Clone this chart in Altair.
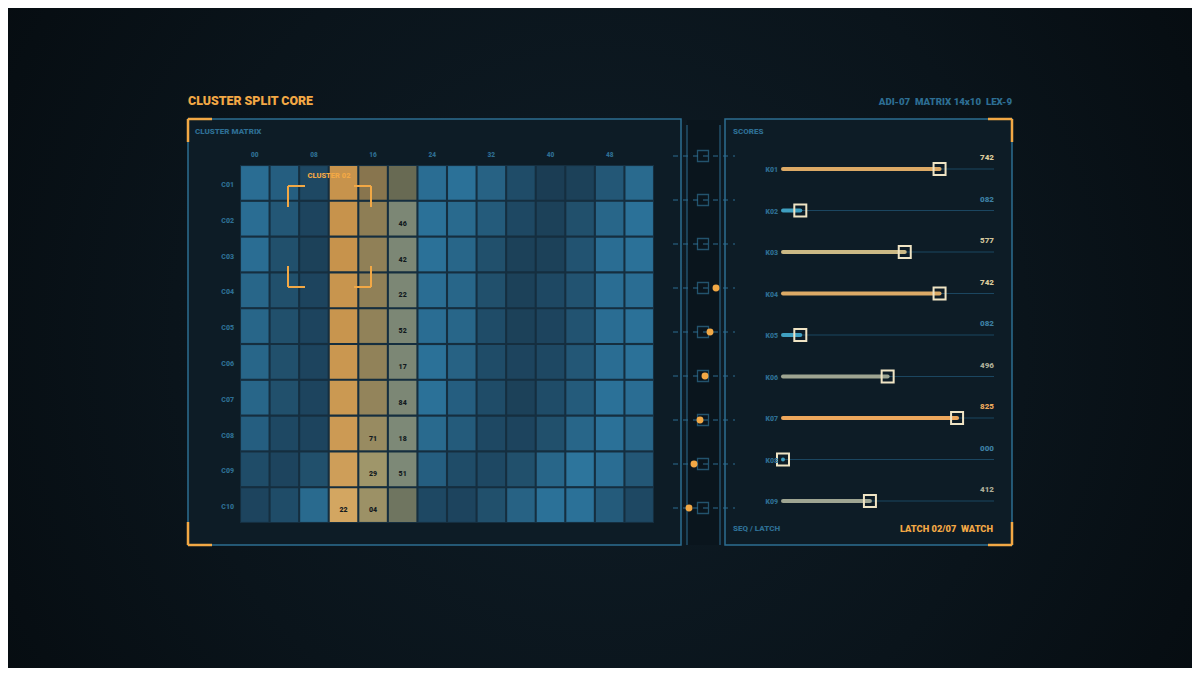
import altair as alt
import pandas as pd

# ---------------- data ----------------
row_labels = ["C01", "C02", "C03", "C04", "C05", "C06", "C07", "C08", "C09", "C10"]
col_ids = list(range(14))
col_tick_ids = [0, 2, 4, 6, 8, 10, 12]
col_tick_labels = ["00", "08", "16", "24", "32", "40", "48"]

# intensity of the blue cells (None = highlighted cluster columns)
blue_levels = [
    [0.80, 0.60, 0.30, None, None, None, 0.80, 0.85, 0.65, 0.35, 0.15, 0.20, 0.50, 0.75],
    [0.80, 0.50, 0.25, None, None, None, 0.85, 0.75, 0.55, 0.30, 0.20, 0.40, 0.70, 0.85],
    [0.80, 0.40, 0.20, None, None, None, 0.85, 0.70, 0.40, 0.20, 0.20, 0.45, 0.80, 0.85],
    [0.70, 0.40, 0.25, None, None, None, 0.80, 0.70, 0.40, 0.20, 0.30, 0.45, 0.80, 0.80],
    [0.70, 0.40, 0.25, None, None, None, 0.80, 0.70, 0.35, 0.20, 0.25, 0.45, 0.80, 0.85],
    [0.70, 0.40, 0.25, None, None, None, 0.85, 0.65, 0.35, 0.25, 0.30, 0.50, 0.80, 0.85],
    [0.70, 0.40, 0.25, None, None, None, 0.85, 0.60, 0.35, 0.20, 0.35, 0.55, 0.85, 0.80],
    [0.60, 0.30, 0.25, None, None, None, 0.75, 0.55, 0.30, 0.25, 0.40, 0.70, 0.85, 0.70],
    [0.35, 0.25, 0.40, None, None, None, 0.60, 0.35, 0.30, 0.40, 0.70, 0.90, 0.80, 0.50],
    [0.25, 0.35, 0.75, None, None, None, 0.30, 0.25, 0.40, 0.65, 0.85, 0.85, 0.55, 0.30],
]
amber_levels = [0.30, 0.30, 0.30, 0.35, 0.35, 0.40, 0.45, 0.50, 0.60, 0.80]   # column 3
tan_levels = [0.10, 0.30, 0.35, 0.35, 0.40, 0.40, 0.45, 0.60, 0.85, 0.75]     # column 4
sage_levels = [0.10, 0.90, 0.90, 0.90, 0.90, 0.90, 0.90, 0.95, 0.95, 0.40]    # column 5

note_rows = ["C02", "C03", "C04", "C05", "C06", "C07", "C08", "C08", "C09", "C09", "C10", "C10"]
note_cols = [5, 5, 5, 5, 5, 5, 4, 5, 4, 5, 3, 4]
note_text = ["46", "42", "22", "52", "17", "84", "71", "18", "29", "51", "22", "04"]

score_keys = ["K01", "K02", "K03", "K04", "K05", "K06", "K07", "K08", "K09"]
score_values = [742, 82, 577, 742, 82, 496, 825, 0, 412]
score_text = ["742", "082", "577", "742", "082", "496", "825", "000", "412"]
score_tones = ["amber", "cyan", "khaki", "amber", "cyan", "sage", "orange", "cyan", "sage"]

latch_steps = list(range(9))
latch_offsets = [None, None, None, 13, 7, 2, -3, -9, -14]

# ---------------- styles ----------------
FONT = "Roboto"
W = 900
ORANGE = "#f2a845"
BLUE_TXT = "#2d6e93"
FRAME = "#2c6d91"
FAMILY = {
    "blue": ("#173246", "#2f7ca6"),
    "amber": ("#c0883f", "#d8ad6a"),
    "tan": ("#85714a", "#a49c70"),
    "sage": ("#65664f", "#7e8b79"),
}
BAR_COLOR = {"amber": "#dcaa66", "cyan": "#3f9fc0", "khaki": "#cbb985",
             "sage": "#9ea592", "orange": "#eda75c"}
VAL_COLOR = {"amber": "#dccb9c", "cyan": "#3c7fa3", "khaki": "#cfc29a",
             "sage": "#adae98", "orange": "#eaa85c"}


def _rgb(h):
    return tuple(int(h[i:i + 2], 16) for i in (1, 3, 5))


def mix(a, b, t):
    ra, rb = _rgb(a), _rgb(b)
    return "#%02x%02x%02x" % tuple(round(x + (y - x) * t) for x, y in zip(ra, rb))


HIGHLIGHT = {3: ("amber", amber_levels), 4: ("tan", tan_levels), 5: ("sage", sage_levels)}
recs = []
for r, rl in enumerate(row_labels):
    for c in col_ids:
        if c in HIGHLIGHT:
            fam, lv = HIGHLIGHT[c]
            t = lv[r]
        else:
            fam, t = "blue", blue_levels[r][c]
        recs.append({"row": rl, "col": c, "fill": mix(*FAMILY[fam], t)})
cells = pd.DataFrame(recs)
notes = pd.DataFrame({"row": note_rows, "col": note_cols, "txt": note_text})
ticks = pd.DataFrame({"col": col_tick_ids, "txt": col_tick_labels})
rows_df = pd.DataFrame({"row": row_labels})
scores = pd.DataFrame({
    "k": score_keys, "v": score_values, "txt": score_text,
    "bar": [BAR_COLOR[t] for t in score_tones],
    "vc": [VAL_COLOR[t] for t in score_tones],
    "zero": 0, "full": 1000,
})
latch = pd.DataFrame({"step": latch_steps, "off": latch_offsets})
latch_c = latch.assign(off0=0)
dots = latch.dropna()

one = pd.DataFrame({"a": [0]})

# ---------------- scales (chart pixel ranges) ----------------
GX, GY = [232, 646], [157, 515]
xb = alt.Scale(type="band", domain=col_ids, range=GX, paddingInner=0.07, paddingOuter=0.035)
yb = alt.Scale(type="band", domain=row_labels, range=GY, paddingInner=0.06, paddingOuter=0.03)
xp = alt.Scale(type="point", domain=col_ids, range=GX, padding=0.5)
yp = alt.Scale(type="point", domain=row_labels, range=GY, padding=0.5)
sx = alt.Scale(domain=[0, 1000], range=[775, 986])
sy = alt.Scale(type="point", domain=score_keys, range=[161, 493], padding=0)
lx = alt.Scale(domain=[-20, 20], range=[675, 715])
ly = alt.Scale(type="point", domain=latch_steps, range=[148, 500], padding=0)


def seg_layer(rows, color, width, dash=None):
    df = pd.DataFrame(rows, columns=["x", "y", "x2", "y2"])
    kw = dict(color=color, strokeWidth=width)
    if dash:
        kw["strokeDash"] = dash
    return alt.Chart(df).mark_rule(**kw).encode(
        x=alt.X("x:Q", scale=None, axis=None), y=alt.Y("y:Q", scale=None, axis=None),
        x2="x2:Q", y2="y2:Q")


def corners(x0, y0, x1, y1, ah, av, which):
    out = []
    if "tl" in which:
        out += [(x0, y0, x0 + ah, y0), (x0, y0, x0, y0 + av)]
    if "tr" in which:
        out += [(x1 - ah, y0, x1, y0), (x1, y0, x1, y0 + av)]
    if "bl" in which:
        out += [(x0, y1, x0 + ah, y1), (x0, y1 - av, x0, y1)]
    if "br" in which:
        out += [(x1 - ah, y1, x1, y1), (x1, y1 - av, x1, y1)]
    return out


def label(text, x, y, size, color, align="left"):
    return alt.Chart(one).mark_text(
        text=text, align=align, baseline="middle", font=FONT, fontSize=size,
        fontWeight=W, color=color).encode(x=alt.value(x), y=alt.value(y))


# ---------------- layers ----------------
bg = alt.Chart(one).mark_rect(
    color=alt.Gradient(gradient="radial",
                       stops=[alt.GradientStop(color="#0f1d27", offset=0),
                              alt.GradientStop(color="#0a141b", offset=0.5),
                              alt.GradientStop(color="#04080b", offset=1)],
                       x1=0.5, y1=0.5, x2=0.5, y2=0.5, r1=0, r2=0.72)
).encode(x=alt.value(0), x2=alt.value(1184), y=alt.value(0), y2=alt.value(660))

panels_df = pd.DataFrame([(180, 111, 673, 537), (717, 111, 1004, 537)],
                         columns=["x", "y", "x2", "y2"])
panels = alt.Chart(panels_df).mark_rect(fill="#0d1c26", stroke=FRAME, strokeWidth=1.5).encode(
    x=alt.X("x:Q", scale=None, axis=None), y=alt.Y("y:Q", scale=None, axis=None),
    x2="x2:Q", y2="y2:Q")

strip_bg = alt.Chart(one).mark_rect(fill="#0a151d").encode(
    x=alt.value(679), x2=alt.value(712), y=alt.value(112), y2=alt.value(537))
strip_lines = seg_layer([(679, 117, 679, 537), (712, 117, 712, 537)], FRAME, 1)

grid_bg = alt.Chart(one).mark_rect(fill="#152e3f").encode(
    x=alt.value(GX[0]), x2=alt.value(GX[1]), y=alt.value(GY[0]), y2=alt.value(GY[1]))

cell_layer = alt.Chart(cells).mark_rect().encode(
    x=alt.X("col:O", scale=xb, axis=None),
    y=alt.Y("row:N", scale=yb, axis=None),
    color=alt.Color("fill:N", scale=None, legend=None))

note_layer = alt.Chart(notes).mark_text(
    font=FONT, fontSize=7, fontWeight=W, color="#121a20", dy=5).encode(
    x=alt.X("col:O", scale=xp, axis=None), y=alt.Y("row:N", scale=yp, axis=None),
    text="txt:N")

tick_layer = alt.Chart(ticks).mark_text(
    font=FONT, fontSize=6.5, fontWeight=W, color=BLUE_TXT, baseline="middle").encode(
    x=alt.X("col:O", scale=xp, axis=None), y=alt.value(147), text="txt:N")

rowlab_layer = alt.Chart(rows_df).mark_text(
    font=FONT, fontSize=7, fontWeight=W, color=BLUE_TXT, align="right",
    baseline="middle", dy=2).encode(
    x=alt.value(226), y=alt.Y("row:N", scale=yp, axis=None), text="row:N")

cluster_br = seg_layer(corners(280, 178, 363, 279, 17, 21, "tl tr bl br"), ORANGE, 2)
cluster_lab = label("CLUSTER 02", 321, 168, 7.5, ORANGE, align="center")

frame_br = seg_layer(corners(180, 111, 673, 537, 24, 23, "tl bl")
                     + corners(717, 111, 1004, 537, 24, 23, "tr br"), ORANGE, 2.5)

tracks = alt.Chart(scores).mark_rule(color="#1b4660", strokeWidth=1).encode(
    x=alt.X("zero:Q", scale=sx, axis=None), x2="full:Q",
    y=alt.Y("k:N", scale=sy, axis=None))
bars = alt.Chart(scores).mark_rule(strokeWidth=4, strokeCap="round").encode(
    x=alt.X("zero:Q", scale=sx, axis=None), x2="v:Q",
    y=alt.Y("k:N", scale=sy, axis=None),
    color=alt.Color("bar:N", scale=None, legend=None))
handles = alt.Chart(scores).mark_square(
    size=144, filled=False, stroke="#efe4c4", strokeWidth=2, opacity=1).encode(
    x=alt.X("v:Q", scale=sx, axis=None), y=alt.Y("k:N", scale=sy, axis=None))
vals = alt.Chart(scores).mark_text(
    font=FONT, fontSize=8, fontWeight=W, align="right", baseline="middle", dy=-11).encode(
    x=alt.X("full:Q", scale=sx, axis=None), y=alt.Y("k:N", scale=sy, axis=None),
    text="txt:N", color=alt.Color("vc:N", scale=None, legend=None))
klabs = alt.Chart(scores).mark_text(
    font=FONT, fontSize=7, fontWeight=W, align="right", baseline="middle",
    color=BLUE_TXT, dy=1).encode(
    x=alt.value(770), y=alt.Y("k:N", scale=sy, axis=None), text="k:N")

dashes = alt.Chart(latch).mark_rule(color=FRAME, strokeWidth=1, strokeDash=[5, 5]).encode(
    x=alt.value(665), x2=alt.value(727), y=alt.Y("step:O", scale=ly, axis=None))
squares = alt.Chart(latch_c).mark_square(
    size=121, filled=False, stroke="#2e6e90", strokeWidth=1.3).encode(
    x=alt.X("off0:Q", scale=lx, axis=None), y=alt.Y("step:O", scale=ly, axis=None))
dot_layer = alt.Chart(dots).mark_circle(size=48, color=ORANGE, opacity=1).encode(
    x=alt.X("off:Q", scale=lx, axis=None), y=alt.Y("step:O", scale=ly, axis=None))

texts = [
    label("CLUSTER SPLIT CORE", 180, 93, 12.4, ORANGE),
    label("ADI-07\u00a0\u00a0MATRIX 14x10\u00a0\u00a0LEX-9", 1004, 94, 9.7, BLUE_TXT, align="right"),
    label("CLUSTER MATRIX", 187, 124, 8, BLUE_TXT),
    label("SCORES", 725, 124, 8, BLUE_TXT),
    label("SEQ / LATCH", 725, 521, 8, BLUE_TXT),
    label("LATCH 02/07\u00a0\u00a0WATCH", 985, 521, 9.3, ORANGE, align="right"),
]

chart = alt.layer(
    bg, panels, strip_bg, strip_lines, grid_bg, cell_layer, note_layer, tick_layer,
    rowlab_layer, cluster_br, cluster_lab, frame_br, tracks, bars, handles, vals, klabs,
    dashes, squares, dot_layer, *texts
).resolve_scale(
    x="independent", y="independent", color="independent"
).properties(
    width=1184, height=660, padding=0,
    autosize=alt.AutoSizeParams(type="none"),
    background="#0a141b",
).configure_view(stroke=None)

chart.save("out.html", embed_options={"renderer": "svg", "actions": False})
